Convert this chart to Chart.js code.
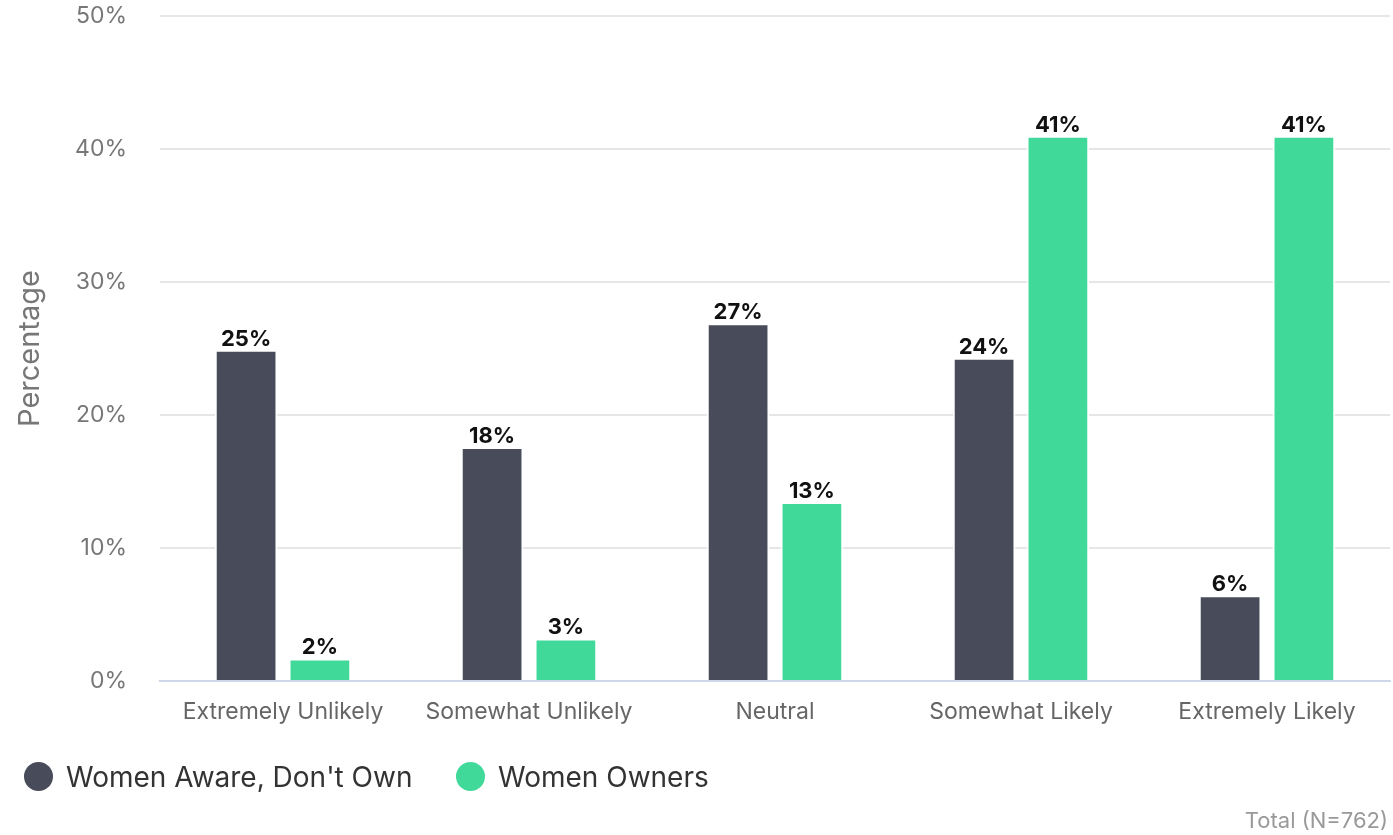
<!DOCTYPE html>
<html>
<head>
<meta charset="utf-8">
<script src="https://cdn.jsdelivr.net/npm/chart.js@4/dist/chart.umd.min.js"></script>
<style>
  html, body { margin: 0; padding: 0; background: #fff; }
  #wrap { width: 1393px; height: 835px; position: relative; font-family: Inter, 'Noto Sans', sans-serif; }
  canvas { position: absolute; left: 0; top: 0; }
  .lg { position: absolute; top: 760px; height: 34px; line-height: 34px; font-size: 28px; color: #333; white-space: nowrap; }
  .dot { position: absolute; top: 762px; width: 29px; height: 29px; border-radius: 50%; }
  #total { position: absolute; right: 5px; top: 806px; height: 28px; line-height: 28px; font-size: 22px; color: #999; white-space: nowrap; }
</style>
</head>
<body>
<div id="wrap">
  <canvas id="c" width="1393" height="835"></canvas>
  <div id="legend"></div>
  <div id="total"></div>
</div>
<script>
const categories = ["Extremely Unlikely", "Somewhat Unlikely", "Neutral", "Somewhat Likely", "Extremely Likely"];
const awareDontOwn = [24.9, 17.6, 26.9, 24.3, 6.45];
const owners = [1.7, 3.2, 13.45, 41.0, 41.0];
const seriesNames = ["Women Aware, Don't Own", "Women Owners"];
const seriesColors = ["#474b5a", "#40d99a"];
const yTicks = [0, 10, 20, 30, 40, 50];
const footerText = "Total (N=762)";
const axisTitle = "Percentage";

const FONT = "Inter, 'Noto Sans', sans-serif";

const valueLabels = {
  id: 'valueLabels',
  afterDatasetsDraw(chart) {
    const ctx = chart.ctx;
    ctx.save();
    ctx.font = "bold 22px " + FONT;
    ctx.fillStyle = "#111";
    ctx.textAlign = "center";
    ctx.textBaseline = "alphabetic";
    chart.data.datasets.forEach((ds, i) => {
      const meta = chart.getDatasetMeta(i);
      meta.data.forEach((bar, j) => {
        ctx.fillText(Math.round(ds.data[j]) + "%", bar.x, bar.y - 4);
      });
    });
    ctx.restore();
  }
};

function makeChart(padTop, padBottom) {
  return new Chart(document.getElementById('c'), {
    type: 'bar',
    data: {
      labels: categories,
      datasets: [
        { label: seriesNames[0], data: awareDontOwn, backgroundColor: seriesColors[0], borderColor: "#ffffff", borderWidth: 2 },
        { label: seriesNames[1], data: owners, backgroundColor: seriesColors[1], borderColor: "#ffffff", borderWidth: 2 }
      ]
    },
    options: {
      responsive: false,
      animation: false,
      devicePixelRatio: 1,
      layout: { padding: { top: padTop, right: 3, left: 13, bottom: padBottom } },
      datasets: { bar: { categoryPercentage: 0.6, barPercentage: 0.85 } },
      scales: {
        x: {
          grid: { display: false, drawTicks: false },
          border: { color: "#cdd8ea", width: 2 },
          ticks: { color: "#666", font: { family: FONT, size: 23 }, padding: 17 }
        },
        y: {
          min: 0, max: 50,
          afterBuildTicks(axis) { axis.ticks = yTicks.map(v => ({ value: v })); },
          afterFit(axis) { axis.width = 160 - 13; axis.paddingTop = 14; axis.paddingBottom = 14; },
          grid: { color: "#e6e6e6", lineWidth: 2, drawTicks: false },
          border: { display: false },
          ticks: { color: "#777", font: { family: FONT, size: 23 }, padding: 33, callback: v => v + "%" },
          title: { display: true, text: axisTitle, color: "#777", font: { family: FONT, size: 29 }, padding: { top: 0, bottom: 0 } }
        }
      },
      plugins: {
        legend: { display: false },
        title: { display: false },
        tooltip: { enabled: false }
      }
    },
    plugins: [valueLabels]
  });
}

// first pass measures the plot area, second pass places it where the reference has it
let padTop = 16, padBottom = 94;
let chart = makeChart(padTop, padBottom);
const dTop = 16 - chart.chartArea.top;
const dBottom = chart.chartArea.bottom - 681;
chart.destroy();
chart = makeChart(padTop + dTop, padBottom + dBottom);

// legend (HTML)
const legend = document.getElementById('legend');
const dotX = [24, 456];
const textX = [66, 498];
seriesNames.forEach((name, i) => {
  const d = document.createElement('div');
  d.className = 'dot';
  d.style.left = dotX[i] + 'px';
  d.style.background = seriesColors[i];
  legend.appendChild(d);
  const t = document.createElement('div');
  t.className = 'lg';
  t.style.left = textX[i] + 'px';
  t.textContent = name;
  legend.appendChild(t);
});
document.getElementById('total').textContent = footerText;
</script>
</body>
</html>
